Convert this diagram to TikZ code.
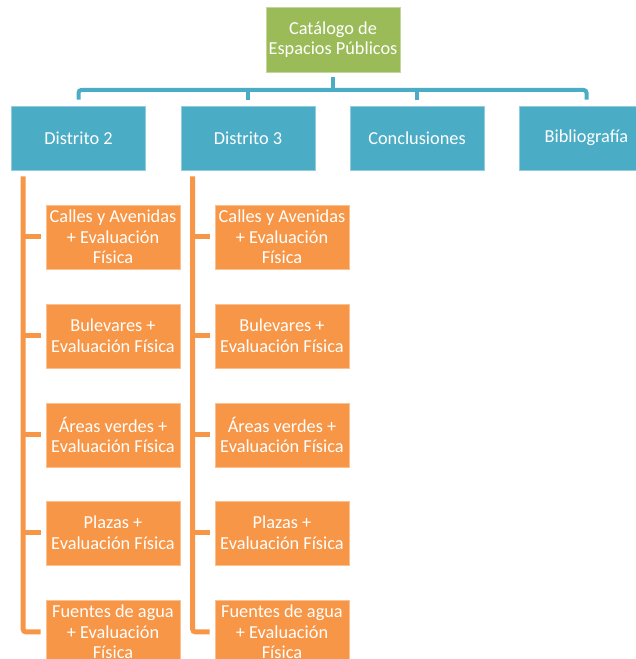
\documentclass[tikz,border=0pt]{standalone}
\usepackage{fontspec}
\setmainfont{Carlito}
\definecolor{cgreen}{HTML}{9BBB59}
\definecolor{cblue}{HTML}{4BACC6}
\definecolor{corange}{HTML}{F79646}
\begin{document}
\begin{tikzpicture}[x=1pt,y=1pt,
  box/.style={minimum width=134pt,minimum height=64pt,inner sep=0pt,align=center,
    text=white,font=\fontsize{18.3}{20.6}\selectfont,line width=0.8pt},
  gbox/.style={box,fill=cgreen,draw=cgreen!60!white,minimum height=65pt},
  bbox/.style={box,fill=cblue,draw=cblue!60!white},
  obox/.style={box,fill=corange,draw=corange!60!white},
  bl/.style={draw=cblue,line width=4pt,rounded corners=3pt},
  ol/.style={draw=corange,line width=5pt,rounded corners=3pt}]
\useasboundingbox (0,0) rectangle (636,659);
\clip (0,0) rectangle (636,659);
\node[gbox] (root) at (333,619.5) {Catálogo de\\Espacios Públicos};
\node[bbox] (d2) at (78.5,521) {Distrito 2};
\node[bbox] (d3) at (248,521) {Distrito 3};
\node[bbox] (con) at (417,521) {Conclusiones};
\node[bbox] (bib) at (586.5,521) {Bibliografía};
% blue connectors
\path ([yshift=-5pt]root.south) coordinate (rs);
\path (rs) ++(0,-12.5) coordinate (rh);
\draw[bl] (rs) -- (rh);
\draw[bl] ([yshift=6pt]d2.north) -- (d2.north |- rh) -- (bib.north |- rh) -- ([yshift=6pt]bib.north);
\draw[bl] ([yshift=6pt]d3.north) -- (d3.north |- rh);
\draw[bl] ([yshift=6pt]con.north) -- (con.north |- rh);
% orange boxes
\foreach \c/\x/\d in {a/113/d2,b/282/d3}{
  \node[obox] (\c1) at (\x,422) {Calles y Avenidas\\+ Evaluación\\Física};
  \node[obox] (\c2) at (\x,323) {Bulevares +\\Evaluación Física};
  \node[obox] (\c3) at (\x,224) {Áreas verdes +\\Evaluación Física};
  \node[obox] (\c4) at (\x,126) {Plazas +\\Evaluación Física};
  \node[obox] (\c5) at (\x,27) {Fuentes de agua\\+ Evaluación\\Física};
  \path ([shift={(12pt,-6pt)}]\d.south west) coordinate (v\c);
  \draw[ol] (v\c) |- ([xshift=-5pt]\c5.west);
  \foreach \i in {1,2,3,4}{
    \draw[ol] (v\c |- \c\i.west) -- ([xshift=-5pt]\c\i.west);
  }
}
\end{tikzpicture}
\end{document}
